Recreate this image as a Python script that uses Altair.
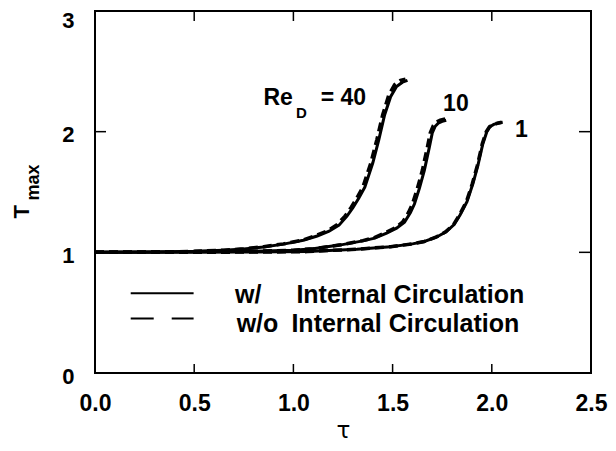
import altair as alt
import pandas as pd

# ---- data ----
tau_40 = [0.0, 0.3, 0.5, 0.65, 0.75, 0.85, 0.95, 1.05, 1.12, 1.18, 1.23, 1.27, 1.30, 1.33, 1.36, 1.40, 1.43, 1.46, 1.49, 1.52, 1.55, 1.575]
T_40 = [1.0, 1.002, 1.008, 1.018, 1.028, 1.045, 1.068, 1.10, 1.135, 1.175, 1.225, 1.30, 1.37, 1.45, 1.54, 1.74, 1.93, 2.14, 2.29, 2.375, 2.41, 2.425]
tau_40_d = [0.0, 0.3, 0.5, 0.65, 0.75, 0.85, 0.95, 1.05, 1.115, 1.175, 1.22, 1.26, 1.29, 1.32, 1.35, 1.39, 1.42, 1.45, 1.48, 1.51, 1.54, 1.565]
T_40_d = [1.0, 1.002, 1.008, 1.018, 1.029, 1.047, 1.07, 1.103, 1.14, 1.18, 1.23, 1.30, 1.37, 1.45, 1.54, 1.74, 1.93, 2.14, 2.30, 2.39, 2.425, 2.435]

tau_10 = [0.0, 0.5, 0.8, 1.0, 1.1, 1.24, 1.35, 1.41, 1.47, 1.52, 1.56, 1.59, 1.61, 1.635, 1.66, 1.685, 1.70, 1.715, 1.73, 1.75, 1.77]
T_10 = [1.0, 1.002, 1.008, 1.018, 1.03, 1.062, 1.095, 1.118, 1.16, 1.20, 1.25, 1.33, 1.40, 1.53, 1.68, 1.87, 1.99, 2.045, 2.07, 2.085, 2.095]
tau_10_d = [0.0, 0.5, 0.8, 1.0, 1.1, 1.24, 1.35, 1.405, 1.465, 1.515, 1.55, 1.58, 1.60, 1.625, 1.65, 1.675, 1.69, 1.705, 1.72, 1.74, 1.765]
T_10_d = [1.0, 1.002, 1.008, 1.018, 1.03, 1.063, 1.097, 1.12, 1.163, 1.205, 1.25, 1.33, 1.40, 1.53, 1.68, 1.87, 1.99, 2.05, 2.08, 2.095, 2.105]

tau_1 = [0.0, 0.8, 1.07, 1.32, 1.49, 1.60, 1.66, 1.72, 1.77, 1.81, 1.84, 1.875, 1.905, 1.93, 1.955, 1.975, 1.99, 2.01, 2.03, 2.055]
T_1 = [1.0, 1.002, 1.006, 1.026, 1.047, 1.07, 1.09, 1.125, 1.17, 1.23, 1.31, 1.42, 1.57, 1.72, 1.90, 2.00, 2.04, 2.06, 2.07, 2.078]
tau_1_d = [0.0, 0.8, 1.07, 1.32, 1.49, 1.60, 1.66, 1.718, 1.767, 1.807, 1.837, 1.872, 1.902, 1.927, 1.952, 1.972, 1.988, 2.008, 2.028, 2.05]
T_1_d = [1.0, 1.002, 1.006, 1.026, 1.047, 1.07, 1.09, 1.125, 1.17, 1.23, 1.31, 1.42, 1.57, 1.72, 1.90, 2.00, 2.04, 2.06, 2.07, 2.078]

x_ticks = [0.0, 0.5, 1.0, 1.5, 2.0, 2.5]
y_ticks = [0, 1, 2, 3]
x_inner_ticks = [0.5, 1.0, 1.5, 2.0]
y_inner_ticks = [1, 2]

legend_labels = ["w/", "w/o"]
legend_text = "Internal Circulation"

W, H = 496, 362
FONT = "Liberation Sans"

def frame(taus, Ts, re):
    return pd.DataFrame({"tau": taus, "T": Ts, "Re": re})

solid_df = pd.concat([frame(tau_40, T_40, "40"), frame(tau_10, T_10, "10"), frame(tau_1, T_1, "1")])
dash_df = pd.concat([frame(tau_40_d, T_40_d, "40"), frame(tau_10_d, T_10_d, "10"), frame(tau_1_d, T_1_d, "1")])

xscale = alt.Scale(domain=[0, 2.5], nice=False, zero=False)
yscale = alt.Scale(domain=[0, 3], nice=False, zero=False)

xaxis = alt.Axis(values=x_ticks, format=".1f", title="τ", grid=False, domain=False,
                 ticks=False, tickSize=0, labelPadding=19, labelFont=FONT, labelFontWeight="bold",
                 labelFontSize=23, labelColor="black", titleFont="DejaVu Sans", titleFontSize=23,
                 titleFontWeight="normal", titleColor="black",
                 titleX=W / 2, titleY=64, titleAlign="center", titleBaseline="alphabetic",
                 labelFlush=False, labelOverlap=False)
yaxis = alt.Axis(values=y_ticks, format="d", title=None, grid=False, domain=False,
                 ticks=False, tickSize=0, labelPadding=21, labelFont=FONT, labelFontWeight="bold",
                 labelFontSize=22, labelColor="black", labelFlush=False, labelOverlap=False,
                 labelOffset={"condition": {"test": "datum.value == 3", "value": 9}, "value": 3.3})

solid = alt.Chart(solid_df).mark_line(color="black", strokeWidth=3).encode(
    x=alt.X("tau:Q", scale=xscale, axis=xaxis),
    y=alt.Y("T:Q", scale=yscale, axis=yaxis),
    detail="Re:N",
)
dashed = alt.Chart(dash_df).mark_line(color="black", strokeWidth=3.5, strokeDash=[9, 5]).encode(
    x="tau:Q", y="T:Q", detail="Re:N"
)

xt = pd.DataFrame({"tau": x_inner_ticks})
yt = pd.DataFrame({"T": y_inner_ticks})
tick_bottom = alt.Chart(xt).mark_rule(color="black", strokeWidth=1.5).encode(
    x="tau:Q", y=alt.value(H), y2=alt.value(H - 9))
tick_top = alt.Chart(xt).mark_rule(color="black", strokeWidth=1.5).encode(
    x="tau:Q", y=alt.value(0), y2=alt.value(10))
tick_left = alt.Chart(yt).mark_rule(color="black", strokeWidth=1.5).encode(
    y="T:Q", x=alt.value(0), x2=alt.value(11))
tick_right = alt.Chart(yt).mark_rule(color="black", strokeWidth=1.5).encode(
    y="T:Q", x=alt.value(W), x2=alt.value(W - 12))

# legend (drawn inside the plot)
leg_lines = pd.DataFrame({"x1": [0.18], "x2": [0.497], "ys": [0.66], "yd": [0.452]})
leg_solid = alt.Chart(leg_lines).mark_rule(color="black", strokeWidth=2).encode(
    x="x1:Q", x2="x2:Q", y="ys:Q")
leg_dash = alt.Chart(leg_lines).mark_rule(color="black", strokeWidth=2, strokeDash=[23, 18]).encode(
    x="x1:Q", x2="x2:Q", y="yd:Q")

leg_txt = pd.DataFrame({
    "x": [0.706, 0.714, 1.015, 0.990],
    "y": [0.577, 0.341, 0.577, 0.341],
    "label": [legend_labels[0], legend_labels[1], legend_text, legend_text],
})
leg_text = alt.Chart(leg_txt).mark_text(align="left", baseline="alphabetic", font=FONT,
                                        fontWeight="bold", fontSize=25, color="black").encode(
    x="x:Q", y="y:Q", text="label:N")

# curve annotations
ann_big = pd.DataFrame({"x": [0.923, 1.252, 1.819, 2.149], "y": [2.225, 2.225, 2.175, 1.959],
                        "label": ["Re", "= 40", "10", "1"]})
ann_sub = pd.DataFrame({"x": [1.04], "y": [2.115], "label": ["D"]})
ann1 = alt.Chart(ann_big).mark_text(align="center", baseline="alphabetic", font=FONT,
                                    fontWeight="bold", fontSize=23, color="black").encode(
    x="x:Q", y="y:Q", text="label:N")
ann2 = alt.Chart(ann_sub).mark_text(align="center", baseline="alphabetic", font=FONT,
                                    fontWeight="bold", fontSize=15, color="black").encode(
    x="x:Q", y="y:Q", text="label:N")

# y-axis title T_max
ytitle_T = alt.Chart(pd.DataFrame({"label": ["T"]})).mark_text(
    angle=270, align="center", baseline="alphabetic", font=FONT, fontWeight="bold",
    fontSize=22, color="black").encode(x=alt.value(-66.5), y=alt.value(200.7), text="label:N")
ytitle_sub = alt.Chart(pd.DataFrame({"label": ["max"]})).mark_text(
    angle=270, align="center", baseline="alphabetic", font=FONT, fontWeight="bold",
    fontSize=18, color="black").encode(x=alt.value(-56.2), y=alt.value(171.5), text="label:N")

chart = alt.layer(
    solid, dashed, tick_bottom, tick_top, tick_left, tick_right,
    leg_solid, leg_dash, leg_text, ann1, ann2, ytitle_T, ytitle_sub
).properties(
    width=W, height=H,
    autosize=alt.AutoSizeParams(type="none"),
    padding={"left": 87, "top": 3, "right": 17, "bottom": 70},
    background="white",
).configure_view(stroke="black", strokeWidth=2)

chart.save("out.html", embed_options={"renderer": "svg", "actions": False})
